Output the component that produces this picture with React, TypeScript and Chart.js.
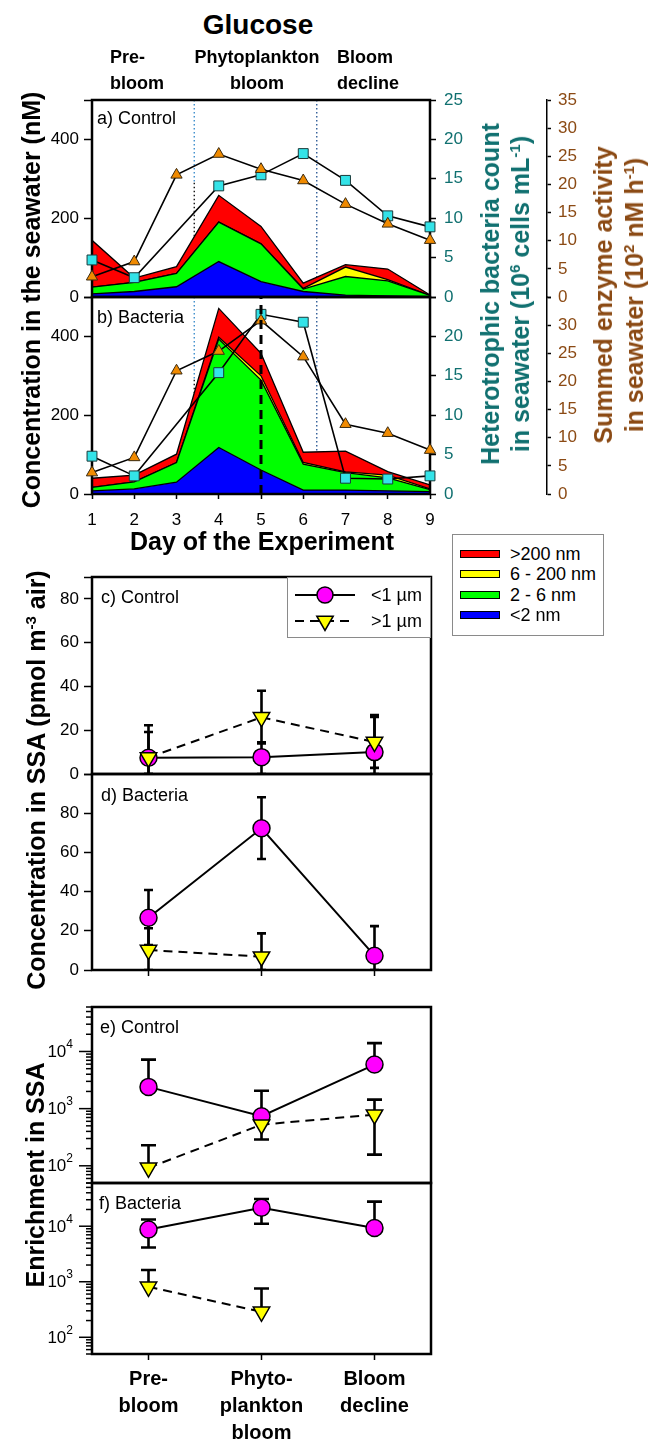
import React, { useEffect, useRef } from 'react';
import { Chart, registerables } from 'chart.js';

Chart.register(...registerables);

const FONT = "'Liberation Sans', Arial, Helvetica, sans-serif";
const TEAL = '#107070';
const BROWN = '#8b4a14';
const RED = '#ff0000';
const YELLOW = '#ffff00';
const GREEN = '#00ff00';
const BLUE = '#0000ff';
const MAGENTA = '#ff00ff';
const CYAN = '#33e3e8';
const ORANGE = '#f08a00';

// ---------- Seawater panels (a, b) ----------
const days = [1, 2, 3, 4, 5, 6, 7, 8, 9];

// a) Control – glucose size fractions (nM)
const aBelow2nm = [8, 14, 26, 90, 39, 14, 5, 3, 1];
const a2to6nm = [17, 23, 34, 100, 96, 6, 47, 38, 3];
const a6to200nm = [0, 0, 0, 0, 0, 2, 24, 3, 0];
const aAbove200nm = [119, 11, 17, 68, 44, 13, 6, 27, 1];
// a) bacteria count (10^6 cells/mL) and enzyme activity (10^2 nM/h)
const aBacteria: (number | null)[] = [4.7, 2.45, null, 14.1, 15.5, 18.2, 14.8, 10.3, 8.9];
const aEnzyme = [3.6, 6.3, 21.7, 25.4, 22.7, 20.7, 16.5, 13.0, 10.1];

// b) Bacteria
const bBelow2nm = [8, 13, 30, 118, 61, 10, 10, 8, 6];
const b2to6nm = [9, 18, 50, 275, 228, 66, 44, 33, 5];
const b6to200nm = [0, 0, 0, 5, 11, 4, 2, 7, 2];
const bAbove200nm = [23, 17, 21, 73, 57, 26, 53, 9, 10];
const bBacteria: (number | null)[] = [4.8, 2.3, null, 15.4, 22.8, 21.8, 2.0, 1.9, 2.3];
const bEnzyme = [3.8, 6.5, 21.9, 25.4, 30.8, 24.4, 12.4, 10.8, 7.8];

// phase boundaries (day)
const phaseBounds = [3.42, 6.32];
const bDashedDay = 5;

// ---------- SSA panels (c-f) ----------
const phases = ['Pre-bloom', 'Phytoplankton bloom', 'Bloom decline'];
const phaseTickLabels = [['Pre-', 'bloom'], ['Phyto-', 'plankton', 'bloom'], ['Bloom', 'decline']];

// c) Control concentration (pmol m-3 air)
const cSmall: (number | null)[] = [7.4, 7.7, 10.0];
const cSmallHi: (number | null)[] = [19.2, 14.5, 26.1];
const cSmallLo: (number | null)[] = [0, 0, 0];
const cLarge: (number | null)[] = [7.5, 25.9, 14.6];
const cLargeHi: (number | null)[] = [22.3, 38, 26.9];
const cLargeLo: (number | null)[] = [0, 13.9, 2.8];

// d) Bacteria concentration
const dSmall: (number | null)[] = [26.7, 72.3, 7.3];
const dSmallHi: (number | null)[] = [40.8, 88.1, 22.4];
const dSmallLo: (number | null)[] = [12.7, 56.6, 0];
const dLarge: (number | null)[] = [10.2, 6.8, null];
const dLargeHi: (number | null)[] = [21.3, 18.7, null];
const dLargeLo: (number | null)[] = [0, 0, null];

// e) Control enrichment
const eSmall: (number | null)[] = [2400, 735, 5900];
const eSmallHi: (number | null)[] = [7200, 2060, 14000];
const eSmallLo: (number | null)[] = [null, 288, null];
const eLarge: (number | null)[] = [92, 525, 785];
const eLargeHi: (number | null)[] = [229, null, 1435];
const eLargeLo: (number | null)[] = [null, null, 157];

// f) Bacteria enrichment
const fSmall: (number | null)[] = [8700, 21500, 9300];
const fSmallHi: (number | null)[] = [13200, 30900, 27700];
const fSmallLo: (number | null)[] = [4150, 11100, null];
const fLarge: (number | null)[] = [810, 288, null];
const fLargeHi: (number | null)[] = [1630, 755, null];
const fLargeLo: (number | null)[] = [null, null, null];

// ---------- plugins ----------
function drawFrame(chart: any) {
  const { ctx, chartArea: a } = chart;
  ctx.save();
  ctx.strokeStyle = '#000';
  ctx.lineWidth = 2.5;
  ctx.setLineDash([]);
  ctx.strokeRect(a.left, a.top, a.right - a.left, a.bottom - a.top);
  ctx.restore();
}

const framePlugin = {
  id: 'frame',
  beforeDatasetDraw(chart: any, args: any, opts: any) {
    if (opts && opts.beforeIndex === args.index) drawFrame(chart);
  },
  afterDatasetsDraw(chart: any, _a: any, opts: any) {
    if (!opts || opts.beforeIndex === undefined) drawFrame(chart);
  },
};

const phaseLinesPlugin = {
  id: 'phaseLines',
  beforeDatasetsDraw(chart: any, _a: any, opts: any) {
    if (!opts || !opts.show) return;
    const { ctx, chartArea: a, scales } = chart;
    const x1 = scales.x.getPixelForValue(phaseBounds[0]);
    const x2 = scales.x.getPixelForValue(phaseBounds[1]);
    const split = a.top + (a.bottom - a.top) * 0.42;
    ctx.save();
    ctx.lineWidth = 1.3;
    ctx.setLineDash([1.5, 2.5]);
    ctx.strokeStyle = '#2f86c8';
    ctx.beginPath(); ctx.moveTo(x1, a.top); ctx.lineTo(x1, split); ctx.stroke();
    ctx.strokeStyle = '#000';
    ctx.beginPath(); ctx.moveTo(x1, split); ctx.lineTo(x1, a.bottom); ctx.stroke();
    ctx.strokeStyle = '#1f4f8f';
    ctx.beginPath(); ctx.moveTo(x2, a.top); ctx.lineTo(x2, a.bottom); ctx.stroke();
    ctx.restore();
  },
  afterDatasetsDraw(chart: any, _a: any, opts: any) {
    if (!opts || opts.dashedDay === undefined) return;
    const { ctx, chartArea: a, scales } = chart;
    const x = scales.x.getPixelForValue(opts.dashedDay);
    ctx.save();
    ctx.lineWidth = 3;
    ctx.strokeStyle = '#000';
    ctx.setLineDash([9, 6]);
    ctx.beginPath(); ctx.moveTo(x, a.bottom); ctx.lineTo(x, a.top); ctx.stroke();
    ctx.restore();
  },
};

const errorBarsPlugin = {
  id: 'errorBars',
  beforeDatasetsDraw(chart: any, _a: any, opts: any) {
    if (!opts || !opts.show) return;
    const { ctx, chartArea: a } = chart;
    const ys = chart.scales.y;
    const half = opts.cap || 5;
    ctx.save();
    ctx.beginPath();
    ctx.rect(a.left, a.top - 1, a.right - a.left, a.bottom - a.top + 2);
    ctx.clip();
    ctx.strokeStyle = '#000';
    ctx.lineWidth = 2.6;
    ctx.setLineDash([]);
    chart.data.datasets.forEach((ds: any, i: number) => {
      if (!ds.errHi) return;
      const meta = chart.getDatasetMeta(i);
      meta.data.forEach((pt: any, j: number) => {
        const v = ds.data[j];
        if (v == null) return;
        const yv = ys.getPixelForValue(v);
        [ds.errHi[j], ds.errLo[j]].forEach((e: number | null) => {
          if (e == null) return;
          const ye = ys.getPixelForValue(e);
          ctx.beginPath();
          ctx.moveTo(pt.x, yv);
          ctx.lineTo(pt.x, ye);
          ctx.moveTo(pt.x - half, ye);
          ctx.lineTo(pt.x + half, ye);
          ctx.stroke();
        });
      });
    });
    ctx.restore();
  },
};

const logAxisPlugin = {
  id: 'logAxis',
  afterDraw(chart: any, _a: any, opts: any) {
    if (!opts || !opts.show) return;
    const { ctx, chartArea: a } = chart;
    const s = chart.scales.y;
    const min = s.min, max = s.max;
    ctx.save();
    ctx.strokeStyle = '#000';
    ctx.fillStyle = '#000';
    ctx.lineWidth = 1.5;
    for (let e = Math.floor(Math.log10(min)); Math.pow(10, e) <= max; e++) {
      for (let m = 1; m <= 9; m++) {
        const v = m * Math.pow(10, e);
        if (v < min * 0.999 || v > max * 1.001) continue;
        const y = s.getPixelForValue(v);
        const major = m === 1;
        ctx.beginPath();
        ctx.moveTo(a.left - (major ? 13 : 6), y);
        ctx.lineTo(a.left, y);
        ctx.stroke();
        if (major) {
          ctx.font = `12px ${FONT}`;
          const exp = String(e);
          const ew = ctx.measureText(exp).width;
          const right = a.left - 19;
          ctx.textBaseline = 'middle';
          ctx.textAlign = 'left';
          ctx.fillText(exp, right - ew, y - 7);
          ctx.font = `17px ${FONT}`;
          ctx.textAlign = 'right';
          ctx.fillText('10', right - ew, y + 1);
        }
      }
    }
    ctx.restore();
  },
};

Chart.register(framePlugin as any, phaseLinesPlugin as any, errorBarsPlugin as any, logAxisPlugin as any);

// ---------- config builders ----------
const PAD = 24;
const B_XH = 42;
const tickFont = { family: FONT, size: 17 };
const tickGrid = (len: number) => ({
  drawOnChartArea: false,
  drawTicks: true,
  tickLength: len,
  color: '#000',
  tickWidth: 1.5,
});

function area(data: number[], color: string, fill: any) {
  return {
    data,
    yAxisID: 'y',
    borderColor: '#000',
    borderWidth: 1.3,
    backgroundColor: color,
    fill,
    pointRadius: 0,
    tension: 0,
  };
}

function seawaterConfig(
  below2: number[], twoTo6: number[], sixTo200: number[], above200: number[],
  bacteria: (number | null)[], enzyme: number[], bottom: boolean,
) {
  return {
    type: 'line',
    data: {
      labels: days,
      datasets: [
        {
          data: enzyme, yAxisID: 'y3', borderColor: '#000', borderWidth: 1.6,
          pointStyle: 'triangle', pointRadius: 6.5, pointBackgroundColor: ORANGE,
          pointBorderColor: '#3a2a10', pointBorderWidth: 1, clip: false, fill: false,
        },
        {
          data: bacteria, yAxisID: 'y2', borderColor: '#000', borderWidth: 1.6,
          pointStyle: 'rect', pointRadius: 7, pointBackgroundColor: CYAN,
          pointBorderColor: '#1a3a3a', pointBorderWidth: 1, spanGaps: true, clip: false, fill: false,
        },
        area(below2, BLUE, 'origin'),
        area(twoTo6, GREEN, '-1'),
        area(sixTo200, YELLOW, '-1'),
        area(above200, RED, '-1'),
      ],
    },
    options: {
      animation: false,
      responsive: false,
      devicePixelRatio: 1,
      events: [],
      layout: { padding: { top: PAD, bottom: bottom ? 0 : PAD, left: 0, right: 0 } },
      plugins: {
        legend: { display: false },
        tooltip: { enabled: false },
        frame: { beforeIndex: 1 },
        phaseLines: { show: true, dashedDay: bottom ? bDashedDay : undefined },
      },
      scales: {
        x: bottom
          ? {
              type: 'linear', min: 1, max: 9, bounds: 'data',
              ticks: { stepSize: 1, font: tickFont, color: '#000', padding: 11, autoSkip: false, maxRotation: 0 },
              grid: tickGrid(5), border: { display: false },
              afterFit: (s: any) => { s.height = B_XH; },
            }
          : { type: 'linear', min: 1, max: 9, display: false },
        y: {
          position: 'left', stacked: true, min: 0, max: 500, bounds: 'data',
          ticks: {
            stepSize: 200, includeBounds: false, font: tickFont, color: '#000', padding: 5, autoSkip: false,
            callback: (v: number) => (v > 400 ? '' : String(v)),
          },
          grid: tickGrid(8), border: { display: false },
          afterFit: (s: any) => { s.width = 92; },
        },
        y2: {
          position: 'right', weight: 0, min: 0, max: 25, bounds: 'data',
          ticks: {
            stepSize: 5, font: tickFont, color: TEAL, padding: 8, autoSkip: false,
            callback: (v: number) => (bottom && v === 25 ? '' : String(v)),
          },
          grid: tickGrid(6), border: { display: false },
          afterFit: (s: any) => { s.width = 117; },
        },
        y3: {
          position: 'right', weight: 1, min: 0, max: 35, bounds: 'data',
          ticks: {
            stepSize: 5, font: tickFont, color: BROWN, padding: 7, autoSkip: false,
            callback: (v: number) => (bottom && v === 35 ? '' : String(v)),
          },
          grid: tickGrid(4), border: { display: true, color: '#000', width: 1.5 },
          afterFit: (s: any) => { s.width = 102; },
        },
      },
    },
  };
}

function ssaDatasets(
  small: (number | null)[], smallHi: (number | null)[], smallLo: (number | null)[],
  large: (number | null)[], largeHi: (number | null)[], largeLo: (number | null)[],
) {
  return [
    {
      label: '>1 µm', data: large, errHi: largeHi, errLo: largeLo,
      borderColor: '#000', borderWidth: 2, borderDash: [9, 6],
      pointStyle: 'triangle', pointRotation: 180, pointRadius: 9.5,
      pointBackgroundColor: YELLOW, pointBorderColor: '#000', pointBorderWidth: 1.5, clip: false,
    },
    {
      label: '<1 µm', data: small, errHi: smallHi, errLo: smallLo,
      borderColor: '#000', borderWidth: 2,
      pointStyle: 'circle', pointRadius: 8.5,
      pointBackgroundColor: MAGENTA, pointBorderColor: '#000', pointBorderWidth: 1.5, clip: false,
    },
  ];
}

const D_XH = 24;

function ssaConfig(kind: 'c' | 'd' | 'e' | 'f') {
  const isLog = kind === 'e' || kind === 'f';
  const data =
    kind === 'c' ? ssaDatasets(cSmall, cSmallHi, cSmallLo, cLarge, cLargeHi, cLargeLo)
    : kind === 'd' ? ssaDatasets(dSmall, dSmallHi, dSmallLo, dLarge, dLargeHi, dLargeLo)
    : kind === 'e' ? ssaDatasets(eSmall, eSmallHi, eSmallLo, eLarge, eLargeHi, eLargeLo)
    : ssaDatasets(fSmall, fSmallHi, fSmallLo, fLarge, fLargeHi, fLargeLo);

  let x: any;
  if (kind === 'c' || kind === 'e') {
    x = { type: 'category', offset: true, display: false };
  } else if (kind === 'd') {
    x = {
      type: 'category', offset: true,
      ticks: { display: false },
      grid: { ...tickGrid(6), offset: false }, border: { display: false },
      afterFit: (s: any) => { s.height = D_XH; },
    };
  } else {
    x = {
      type: 'category', offset: true,
      ticks: {
        font: { family: FONT, size: 20, weight: 'bold', lineHeight: 1.35 },
        color: '#000', padding: 6, autoSkip: false, maxRotation: 0,
        callback: (_v: any, i: number) => phaseTickLabels[i],
      },
      grid: { ...tickGrid(6), offset: false }, border: { display: false },
      afterFit: (s: any) => { s.height = 86; },
    };
  }

  let y: any;
  if (isLog) {
    y = {
      type: 'logarithmic', min: 50, max: 60000,
      ticks: { display: false }, grid: { display: false }, border: { display: false },
      afterFit: (s: any) => { s.width = 92; },
    };
  } else {
    y = {
      min: 0, max: kind === 'c' ? 90 : 100, bounds: 'data',
      ticks: {
        stepSize: 20, includeBounds: false, font: tickFont, color: '#000', padding: 5, autoSkip: false,
        callback: (v: number) => (v > 80 ? '' : String(v)),
      },
      grid: tickGrid(8), border: { display: false },
      afterFit: (s: any) => { s.width = 92; },
    };
  }

  const hasX = kind === 'd' || kind === 'f';
  return {
    type: 'line',
    data: { labels: phases, datasets: data },
    options: {
      animation: false,
      responsive: false,
      devicePixelRatio: 1,
      events: [],
      layout: { padding: { top: PAD, bottom: hasX ? 0 : PAD, left: 0, right: 218 } },
      plugins: {
        legend: { display: false },
        tooltip: { enabled: false },
        frame: {},
        errorBars: { show: true, cap: isLog ? 7.5 : 4.5 },
        logAxis: { show: isLog },
      },
      scales: { x, y },
    },
  };
}

function ChartCanvas({ top, height, make }: { top: number; height: number; make: () => any }) {
  const ref = useRef<HTMLCanvasElement | null>(null);
  useEffect(() => {
    if (!ref.current) return;
    const chart = new Chart(ref.current, make());
    return () => chart.destroy();
  }, []);
  return (
    <canvas
      ref={ref}
      width={649}
      height={height}
      style={{ position: 'absolute', left: 0, top, width: 649, height, display: 'block' }}
    />
  );
}

const supStyle: React.CSSProperties = { fontSize: '0.6em', verticalAlign: 'super', lineHeight: 0 };

function Rot({ cx, cy, color = '#000', lh = 30, children }: any) {
  return (
    <div
      style={{
        position: 'absolute', left: cx, top: cy,
        transform: 'translate(-50%, -50%) rotate(-90deg)',
        whiteSpace: 'nowrap', font: `bold 25px ${FONT}`, lineHeight: `${lh}px`,
        color, textAlign: 'center',
      }}
    >
      {children}
    </div>
  );
}

function Txt({ left, top, children, style }: any) {
  return (
    <div style={{ position: 'absolute', left, top, whiteSpace: 'nowrap', font: `18px ${FONT}`, lineHeight: '20px', color: '#000', ...style }}>
      {children}
    </div>
  );
}

export default function App() {
  // chart areas: a 100-297, b 297-494, c 577-774, d 774-970, e 1007-1183, f 1183-1354
  return (
    <div style={{ position: 'absolute', left: 0, top: 0, width: 649, height: 1440, background: '#fff', overflow: 'hidden', fontFamily: FONT }}>
      <ChartCanvas top={100 - PAD} height={PAD + 197 + PAD} make={() => seawaterConfig(aBelow2nm, a2to6nm, a6to200nm, aAbove200nm, aBacteria, aEnzyme, false)} />
      <ChartCanvas top={297 - PAD} height={PAD + 197 + B_XH} make={() => seawaterConfig(bBelow2nm, b2to6nm, b6to200nm, bAbove200nm, bBacteria, bEnzyme, true)} />
      <ChartCanvas top={577 - PAD} height={PAD + 197 + PAD} make={() => ssaConfig('c')} />
      <ChartCanvas top={774 - PAD} height={PAD + 196 + D_XH} make={() => ssaConfig('d')} />
      <ChartCanvas top={1007 - PAD} height={PAD + 176 + PAD} make={() => ssaConfig('e')} />
      <ChartCanvas top={1183 - PAD} height={PAD + 171 + 86} make={() => ssaConfig('f')} />

      {/* Titles */}
      <div style={{ position: 'absolute', left: 258, top: 25, transform: 'translate(-50%, -50%)', font: `bold 28px ${FONT}`, lineHeight: '30px', whiteSpace: 'nowrap' }}>Glucose</div>
      <div style={{ position: 'absolute', left: 110, top: 44, font: `bold 18px ${FONT}`, lineHeight: '26px', whiteSpace: 'nowrap' }}>Pre-<br />bloom</div>
      <div style={{ position: 'absolute', left: 257, top: 44, transform: 'translateX(-50%)', textAlign: 'center', font: `bold 18px ${FONT}`, lineHeight: '26px', whiteSpace: 'nowrap' }}>Phytoplankton<br />bloom</div>
      <div style={{ position: 'absolute', left: 337, top: 44, font: `bold 18px ${FONT}`, lineHeight: '26px', whiteSpace: 'nowrap' }}>Bloom<br />decline</div>

      {/* Panel labels */}
      <Txt left={97} top={108}>a) Control</Txt>
      <Txt left={97} top={307}>b) Bacteria</Txt>
      <Txt left={101} top={587}>c) Control</Txt>
      <Txt left={101} top={785}>d) Bacteria</Txt>
      <Txt left={100} top={1017}>e) Control</Txt>
      <Txt left={99} top={1193}>f) Bacteria</Txt>

      {/* Axis titles */}
      <Rot cx={31} cy={300}>Concentration in the seawater (nM)</Rot>
      <Rot cx={505} cy={294} color={TEAL}>
        Heterotrophic bacteria count<br />in seawater (10<span style={supStyle}>6</span> cells mL<span style={supStyle}>-1</span>)
      </Rot>
      <Rot cx={619} cy={295} color={BROWN} lh={31}>
        Summed enzyme activity<br />in seawater (10<span style={supStyle}>2</span> nM h<span style={supStyle}>-1</span>)
      </Rot>
      <div style={{ position: 'absolute', left: 262, top: 541, transform: 'translate(-50%, -50%)', font: `bold 25px ${FONT}`, lineHeight: '28px', whiteSpace: 'nowrap' }}>Day of the Experiment</div>
      <Rot cx={36} cy={780}>Concentration in SSA (pmol m<span style={supStyle}>-3</span> air)</Rot>
      <Rot cx={35} cy={1175}>Enrichment in SSA</Rot>

      {/* Size legend */}
      <div style={{ position: 'absolute', left: 452, top: 534, width: 152, height: 102, boxSizing: 'border-box', border: '1px solid #8a8a8a', background: '#fff' }}>
        {[
          { c: RED, t: '>200 nm' },
          { c: YELLOW, t: '6 - 200 nm' },
          { c: GREEN, t: '2 - 6 nm' },
          { c: BLUE, t: '<2 nm' },
        ].map((e, i) => (
          <div key={i} style={{ position: 'absolute', left: 0, top: 9 + i * 20.3, height: 20, width: 150 }}>
            <div style={{ position: 'absolute', left: 7, top: 6, width: 40, height: 8, boxSizing: 'border-box', border: '1px solid #000', background: e.c }} />
            <div style={{ position: 'absolute', left: 57, top: 0, font: `18px ${FONT}`, lineHeight: '20px', whiteSpace: 'nowrap' }}>{e.t}</div>
          </div>
        ))}
      </div>

      {/* Particle size legend */}
      <div style={{ position: 'absolute', left: 287, top: 577, width: 144, height: 61, boxSizing: 'border-box', border: '1px solid #8a8a8a', background: '#fff' }}>
        <svg width={142} height={59} style={{ position: 'absolute', left: 0, top: 0 }}>
          <line x1={7} y1={17} x2={67} y2={17} stroke="#000" strokeWidth={2} />
          <circle cx={37} cy={17} r={8} fill={MAGENTA} stroke="#000" strokeWidth={1.5} />
          <line x1={7} y1={43} x2={67} y2={43} stroke="#000" strokeWidth={2} strokeDasharray="9 6" />
          <polygon points="28.8,38.2 45.2,38.2 37,52.4" fill={YELLOW} stroke="#000" strokeWidth={1.5} />
          <text x={83} y={23} fontFamily={FONT} fontSize={18} fill="#000">&lt;1 µm</text>
          <text x={83} y={49} fontFamily={FONT} fontSize={18} fill="#000">&gt;1 µm</text>
        </svg>
      </div>
    </div>
  );
}
